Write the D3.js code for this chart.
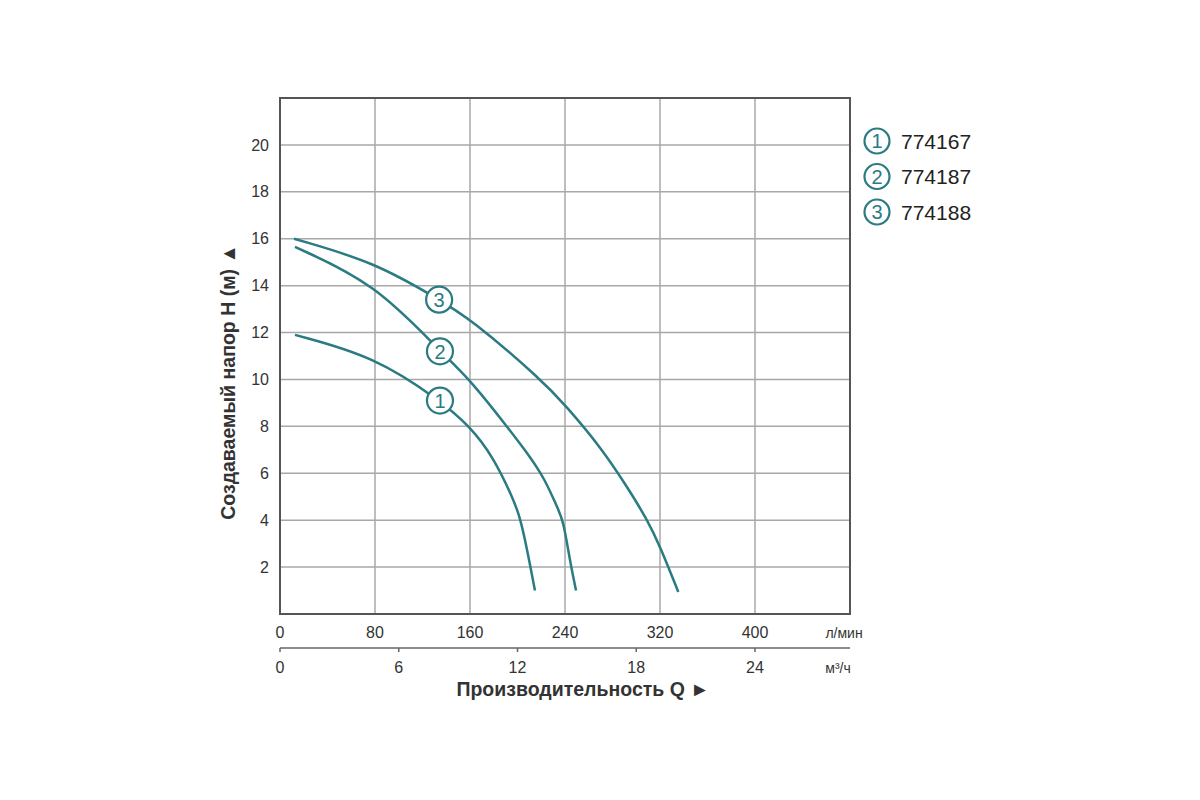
<!DOCTYPE html>
<html>
<head>
<meta charset="utf-8">
<script src="https://cdnjs.cloudflare.com/ajax/libs/d3/7.8.5/d3.min.js"></script>
<style>
  body { margin: 0; background: #fff; }
  text { font-family: "Liberation Sans", Arial, sans-serif; }
</style>
</head>
<body>
<div id="chart-area"></div>
<script>
// pump curves: flow Q (l/min) vs head H (m)
var models = ["774167", "774187", "774188"];
var curve1 = [[12.6, 11.9], [80, 10.97], [134.7, 9.1], [160, 8.0], [179.6, 6.7], [196.5, 4.9], [202, 4.14], [207.7, 2.86], [214.7, 1.0]];
var curve2 = [[12.6, 15.65], [80, 14.1], [134.7, 11.2], [160, 10.0], [191, 8.0], [210, 6.75], [223, 5.75], [233, 4.6], [238.6, 4.0], [244, 2.3], [249.3, 1.0]];
var curve3 = [[11.8, 16.0], [80, 15.0], [134, 13.4], [160, 12.6], [220, 10.0], [241, 8.86], [269.5, 7.15], [292, 5.45], [309, 4.04], [320, 2.9], [335.4, 0.94]];
var markers = [[134.7, 9.1], [134.7, 11.2], [134, 13.4]]; // where the numbered circles sit
var yTicks = [2, 4, 6, 8, 10, 12, 14, 16, 18, 20];
var qTicksLmin = [0, 80, 160, 240, 320, 400];
var qTicksM3h = [0, 6, 12, 18, 24];

var teal = "#2a7b82";
var margin = {left: 280, top: 98};
var width = 570, height = 516;

var svg = d3.select("#chart-area").append("svg")
    .attr("width", 1200)
    .attr("height", 800);

var g = svg.append("g")
    .attr("transform", "translate(" + margin.left + "," + margin.top + ")");

var x = d3.scaleLinear().domain([0, 480]).range([0, width]);
var y = d3.scaleLinear().domain([0, 22]).range([height, 0]);
var x2 = d3.scaleLinear().domain([0, 28.8]).range([0, width]); // m3/h = l/min * 0.06

// grid
g.selectAll(".vgrid").data(d3.range(80, 480, 80)).enter().append("line")
    .attr("x1", function(d){ return x(d); })
    .attr("x2", function(d){ return x(d); })
    .attr("y1", 0).attr("y2", height)
    .attr("stroke", "#a8a8a8").attr("stroke-width", 1.5);
g.selectAll(".hgrid").data(yTicks).enter().append("line")
    .attr("x1", 0).attr("x2", width)
    .attr("y1", function(d){ return y(d); })
    .attr("y2", function(d){ return y(d); })
    .attr("stroke", "#a8a8a8").attr("stroke-width", 1.5);

g.append("rect")
    .attr("width", width).attr("height", height)
    .attr("fill", "none").attr("stroke", "#555").attr("stroke-width", 2);

// y tick labels
g.selectAll(".ylab").data(yTicks).enter().append("text")
    .attr("x", -11)
    .attr("y", function(d){ return y(d); })
    .attr("dy", "0.35em")
    .attr("text-anchor", "end")
    .attr("font-size", "16px")
    .attr("fill", "#333")
    .text(function(d){ return d; });

// l/min labels
g.selectAll(".xlab").data(qTicksLmin).enter().append("text")
    .attr("x", function(d){ return x(d); })
    .attr("y", height + 24)
    .attr("text-anchor", "middle")
    .attr("font-size", "16px")
    .attr("fill", "#333")
    .text(function(d){ return d; });
g.append("text")
    .attr("x", x(480) - 6).attr("y", height + 24)
    .attr("text-anchor", "middle")
    .attr("font-size", "14px").attr("fill", "#333")
    .text("л/мин");

// second axis m3/h
var a2 = g.append("g").attr("transform", "translate(0," + (height + 34) + ")");
a2.append("line")
    .attr("x1", 0).attr("x2", width)
    .attr("stroke", "#666").attr("stroke-width", 1.5);
a2.selectAll(".t2").data(qTicksM3h).enter().append("line")
    .attr("x1", function(d){ return x2(d); })
    .attr("x2", function(d){ return x2(d); })
    .attr("y1", 0).attr("y2", 4)
    .attr("stroke", "#666").attr("stroke-width", 1.5);
a2.selectAll(".l2").data(qTicksM3h).enter().append("text")
    .attr("x", function(d){ return x2(d); })
    .attr("y", 25)
    .attr("text-anchor", "middle")
    .attr("font-size", "16px").attr("fill", "#333")
    .text(function(d){ return d; });
a2.append("text")
    .attr("x", width - 12).attr("y", 25)
    .attr("text-anchor", "middle")
    .attr("font-size", "14px").attr("fill", "#333")
    .text("м³/ч");

// axis titles
g.append("text")
    .attr("x", 303).attr("y", height + 82)
    .attr("text-anchor", "middle")
    .attr("font-size", "19.5px").attr("font-weight", "bold").attr("fill", "#333")
    .text("Производительность Q ►");
g.append("text")
    .attr("transform", "rotate(-90)")
    .attr("x", -(382 - margin.top)).attr("y", -45)
    .attr("text-anchor", "middle")
    .attr("font-size", "19.5px").attr("font-weight", "bold").attr("fill", "#333")
    .text("Создаваемый напор H (м) ▲");

// curves
var line = d3.line()
    .x(function(d){ return x(d[0]); })
    .y(function(d){ return y(d[1]); })
    .curve(d3.curveBasis);

g.selectAll(".curve").data([curve1, curve2, curve3]).enter().append("path")
    .attr("d", line)
    .attr("fill", "none")
    .attr("stroke", teal)
    .attr("stroke-width", 2.5);

// numbered circles on curves
var mk = g.selectAll(".mk").data(markers).enter().append("g")
    .attr("transform", function(d){ return "translate(" + x(d[0]) + "," + y(d[1]) + ")"; });
mk.append("circle").attr("r", 13)
    .attr("fill", "#fff").attr("stroke", teal).attr("stroke-width", 2.2);
mk.append("text")
    .attr("text-anchor", "middle").attr("dy", "0.36em")
    .attr("font-size", "20px").attr("fill", teal)
    .text(function(d, i){ return i + 1; });

// legend
var lg = svg.selectAll(".lg").data(models).enter().append("g")
    .attr("transform", function(d, i){ return "translate(877," + (141 + i * 35.5) + ")"; });
lg.append("circle").attr("r", 12.5)
    .attr("fill", "#fff").attr("stroke", teal).attr("stroke-width", 2.2);
lg.append("text")
    .attr("text-anchor", "middle").attr("dy", "0.36em")
    .attr("font-size", "20px").attr("fill", teal)
    .text(function(d, i){ return i + 1; });
lg.append("text")
    .attr("x", 24).attr("dy", "0.36em")
    .attr("font-size", "21px").attr("fill", "#222")
    .text(function(d){ return d; });
</script>
</body>
</html>
